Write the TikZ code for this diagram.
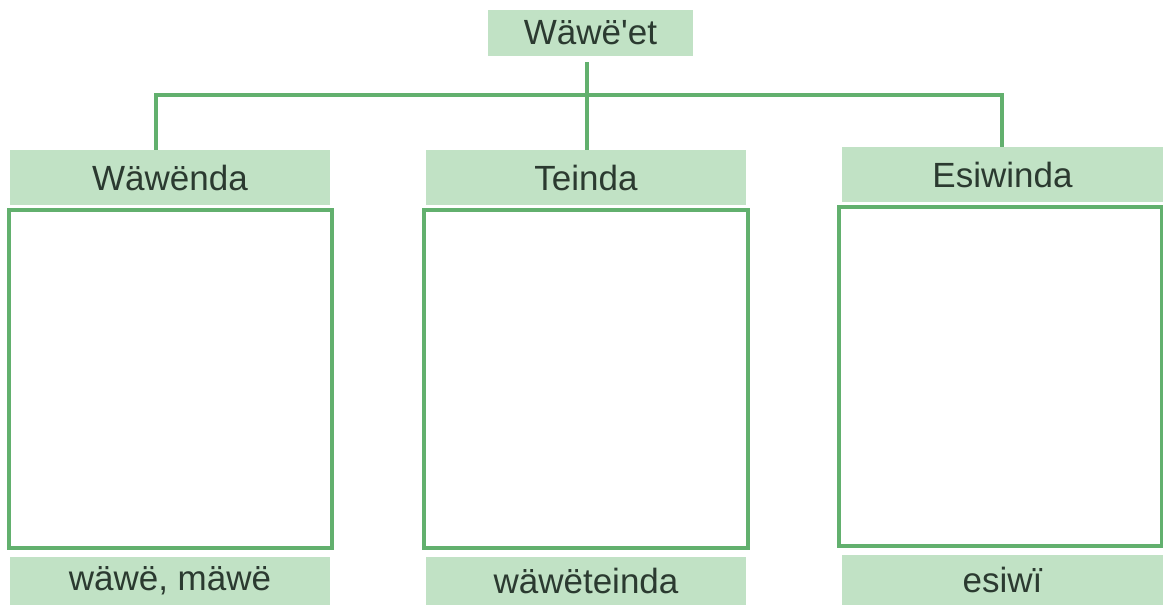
\documentclass[tikz,border=0pt]{standalone}
\usepackage{fontspec}
\setmainfont{Liberation Sans}
\definecolor{boxfill}{HTML}{C1E2C5}
\definecolor{lin}{HTML}{62B06E}
\definecolor{txt}{HTML}{2B3A30}
\begin{document}
\begin{tikzpicture}[x=1pt,y=-1pt,
  label box/.style={rectangle, fill=boxfill, draw=none, inner sep=0pt, text=txt,
    font=\fontsize{35}{42}\selectfont},
  frame box/.style={rectangle, draw=lin, line width=4pt, fill=white, inner sep=0pt},
  link/.style={draw=lin, line width=4pt}]
\useasboundingbox (0,0) rectangle (1163,606);
\fill[white] (0,0) rectangle (1163,606);
% top
\node[label box, minimum width=205pt, minimum height=46pt] (top) at (590.5,33) {Wäwë\textquotesingle et};
% headers
\node[label box, minimum width=320pt, minimum height=55pt] (hl) at (170,177.5) {Wäwënda};
\node[label box, minimum width=320pt, minimum height=55pt] (hm) at (586,177.5) {Teinda};
\node[label box, minimum width=321pt, minimum height=55pt] (hr) at (1002.5,174.5) {Esiwinda};
% frames
\node[frame box, minimum width=323pt, minimum height=338pt] (fl) at (170.5,379) {};
\node[frame box, minimum width=324pt, minimum height=338pt] (fm) at (586,379) {};
\node[frame box, minimum width=323pt, minimum height=339pt] (fr) at (1000.5,376.5) {};
% bottom
\node[label box, minimum width=320pt, minimum height=48pt] (bl) at (170,581) {wäwë, mäwë};
\node[label box, minimum width=320pt, minimum height=48pt] (bm) at (586,581) {wäwëteinda};
\node[label box, minimum width=321pt, minimum height=50pt] (br) at (1002.5,580) {esiwï};
% connectors
\coordinate (jl) at (156,95);
\coordinate (jm) at (587,95);
\coordinate (jr) at (1002,95);
\coordinate (ts) at (587,62);
\draw[link] (ts) -- (jm |- hm.north);
\draw[link] ([xshift=-2pt]jl) -- ([xshift=2pt]jr);
\draw[link] (jl) -- (jl |- hl.north);
\draw[link] (jr) -- (jr |- hr.north);
\end{tikzpicture}
\end{document}
